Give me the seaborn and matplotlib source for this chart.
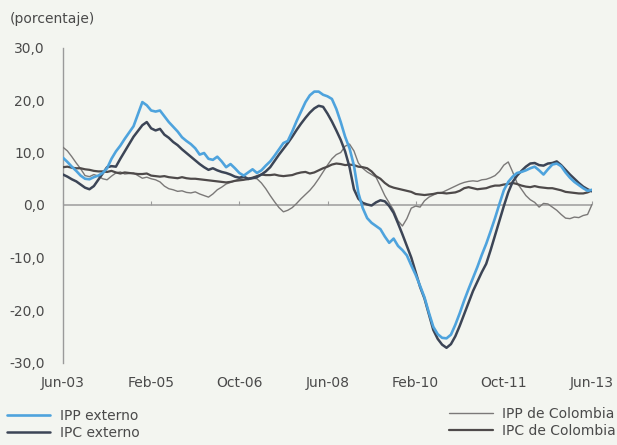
import numpy as np
import pandas as pd
import matplotlib
matplotlib.use("Agg")
import matplotlib.pyplot as plt
import seaborn as sns

# Monthly series, Jun-2003 .. Jun-2013 (annual % change)
ipp_externo = [
    9.0, 8.2, 7.3, 6.5, 5.6, 5.0, 4.9, 5.3, 5.6, 6.1, 7.0, 8.8,
    10.2, 11.3, 12.6, 13.8, 15.0, 17.3, 19.6, 19.0, 18.0, 17.8, 18.0, 16.9,
    15.8, 14.9, 14.0, 12.9, 12.2, 11.6, 10.8, 9.6, 9.9, 8.8, 8.6, 9.2,
    8.3, 7.2, 7.8, 7.0, 6.1, 5.6, 6.2, 6.8, 6.1, 6.6, 7.5, 8.3,
    9.4, 10.6, 11.8, 12.2, 14.0, 16.0, 17.8, 19.6, 20.9, 21.6, 21.6, 21.0,
    20.7, 20.2, 18.3, 15.8, 13.0, 10.8, 7.5, 2.3, -0.6, -2.5, -3.4, -4.0,
    -4.6, -6.0, -7.2, -6.4, -7.8, -8.6, -9.6, -11.5, -13.3, -15.4, -17.6, -20.5,
    -23.2, -24.6, -25.3, -25.4, -24.7, -22.8, -20.6, -18.2, -16.0, -13.9, -11.8, -9.5,
    -7.4, -5.0, -2.5, 0.2, 2.8, 4.4, 5.4, 6.1, 6.3, 6.6, 7.0, 7.3,
    6.6, 5.8, 6.8, 7.7, 7.9, 7.4, 6.2, 5.2, 4.4, 3.8, 3.2, 2.7,
    2.9,
]
ipc_externo = [
    5.8, 5.4, 4.9, 4.5, 3.9, 3.3, 3.0, 3.6, 4.8, 6.0, 7.2, 7.4,
    7.3, 8.8, 10.2, 11.6, 13.0, 14.1, 15.2, 15.8, 14.6, 14.2, 14.5, 13.4,
    12.8, 12.0, 11.4, 10.6, 9.9, 9.2, 8.5, 7.8, 7.2, 6.7, 7.0, 6.6,
    6.3, 6.1, 5.8, 5.4, 5.2, 5.4, 5.0, 5.1, 5.3, 5.8, 6.4, 7.2,
    8.4, 9.6, 10.7, 11.8, 13.0, 14.3, 15.5, 16.6, 17.6, 18.4, 18.9, 18.7,
    17.4, 15.9, 14.2, 12.4, 10.2, 7.2, 3.0, 1.2, 0.4, 0.1, -0.1, 0.5,
    0.9, 0.7, -0.2, -1.5, -3.5, -5.6, -7.8, -10.0, -12.8, -15.6, -17.8, -20.8,
    -23.8, -25.5, -26.6, -27.2, -26.5, -25.0, -23.0, -20.8, -18.6, -16.4, -14.6, -12.8,
    -11.2, -8.6, -5.8, -3.0, -0.2, 2.4, 4.4, 5.6, 6.5, 7.3, 7.9, 8.0,
    7.6, 7.5, 7.9, 8.0, 8.3, 7.6, 6.7, 5.8, 5.0, 4.2, 3.5, 3.0,
    2.6,
]
ipp_colombia = [
    11.0, 10.3, 9.2, 8.0, 6.9, 5.6, 5.4, 5.8, 5.5, 5.0, 4.8, 5.5,
    6.1, 6.3, 5.9, 6.0, 6.1, 5.6, 5.1, 5.3, 5.0, 4.8, 4.4, 3.6,
    3.1, 2.9, 2.6, 2.7, 2.4, 2.3, 2.5, 2.1, 1.8, 1.5, 2.1, 2.9,
    3.4, 4.0, 4.3, 4.6, 5.0, 4.9, 4.8, 5.1, 5.0, 4.2, 3.1, 1.8,
    0.6, -0.5, -1.3, -1.0, -0.5, 0.3, 1.2, 2.0, 2.8, 3.8, 5.0, 6.3,
    7.6, 8.8, 9.6, 10.0, 11.2, 11.6, 10.3, 8.0, 7.0, 6.3, 5.8, 5.3,
    3.6, 1.8, 0.4, -1.0, -3.0, -4.0, -2.6, -0.6, -0.2, -0.4, 0.8, 1.5,
    1.9, 2.3, 2.4, 2.8, 3.2, 3.6, 4.0, 4.3, 4.5, 4.6, 4.5, 4.8,
    4.9, 5.2, 5.6, 6.4, 7.6, 8.2, 6.3, 4.2, 3.0, 1.8, 1.0, 0.5,
    -0.4, 0.3, 0.2, -0.4, -1.0, -1.8, -2.5, -2.6, -2.3, -2.4, -2.0, -1.8,
    0.1,
]
ipc_colombia = [
    7.2, 7.3, 7.1, 7.0, 7.0, 6.8, 6.7, 6.5, 6.4, 6.4, 6.3, 6.5,
    6.2, 6.0, 6.2, 6.1, 6.0, 5.9, 5.9, 6.0, 5.6, 5.5, 5.4, 5.5,
    5.3, 5.2, 5.1, 5.3, 5.1, 5.0, 5.0, 4.9, 4.8, 4.7, 4.6, 4.5,
    4.4, 4.3, 4.4, 4.6, 4.7, 4.8, 5.0, 5.2, 5.5, 5.8, 5.7, 5.7,
    5.8, 5.6, 5.5, 5.6, 5.7, 6.0, 6.2, 6.3, 6.0, 6.2, 6.6, 7.0,
    7.3, 7.7, 7.9, 7.8, 7.6, 7.7, 7.6, 7.3, 7.2, 7.0, 6.4, 5.5,
    5.0, 4.2, 3.6, 3.3, 3.1, 2.9, 2.7, 2.5, 2.1, 2.0, 1.9, 2.0,
    2.1, 2.3, 2.3, 2.2, 2.3, 2.4, 2.7, 3.2, 3.4, 3.2, 3.0, 3.1,
    3.2, 3.5, 3.7, 3.7, 3.9, 4.0, 4.2, 4.0, 3.7, 3.5, 3.4, 3.6,
    3.4, 3.3, 3.2, 3.2, 3.0, 2.8, 2.5, 2.4, 2.3, 2.2, 2.2, 2.4,
    2.8,
]

series_names = ["IPP externo", "IPC externo", "IPP de Colombia", "IPC de Colombia"]
x_tick_labels = ["Jun-03", "Feb-05", "Oct-06", "Jun-08", "Feb-10", "Oct-11", "Jun-13"]
y_tick_values = [-30, -20, -10, 0, 10, 20, 30]

meses = pd.period_range("2003-06", "2013-06", freq="M")
idx = np.arange(len(meses))
df = pd.DataFrame({
    "mes": idx,
    "IPP externo": ipp_externo,
    "IPC externo": ipc_externo,
    "IPP de Colombia": ipp_colombia,
    "IPC de Colombia": ipc_colombia,
})

sns.set_style("white")
plt.rcParams["font.family"] = ["DejaVu Sans"]
plt.rcParams["font.size"] = 10
text_color = "#4a4a4a"
bg = "#f3f5f0"

styles = {
    "IPP de Colombia": dict(color="#7b7978", lw=1.0),
    "IPC de Colombia": dict(color="#4e4a4a", lw=1.6),
    "IPC externo": dict(color="#3c4556", lw=1.8),
    "IPP externo": dict(color="#4ea3dd", lw=1.9),
}

fig = plt.figure(figsize=(6.17, 4.45), dpi=100, facecolor=bg)
ax = fig.add_axes([63 / 617, 1 - 362.5 / 445, (592 - 63) / 617, 315 / 445])
ax.set_facecolor(bg)

ax.axhline(0, color="#9c9c9c", lw=1.1, zorder=1)

lines = {}
for name in ["IPP de Colombia", "IPC de Colombia", "IPC externo", "IPP externo"]:
    sns.lineplot(data=df, x="mes", y=name, ax=ax, color=styles[name]["color"],
                 linewidth=styles[name]["lw"], zorder=3)
    lines[name] = ax.get_lines()[-1]
if ax.get_legend() is not None:
    ax.get_legend().remove()

ax.set_xlim(idx[0], idx[-1])
ax.set_ylim(-30, 30)
ax.set_xlabel("")
ax.set_ylabel("")

# x labels at the bottom, tick marks on the zero line
tick_pos = [meses.get_loc(pd.Period(pd.to_datetime(t, format="%b-%y"), freq="M")) for t in x_tick_labels]
ax.set_xticks(tick_pos)
ax.set_xticklabels(x_tick_labels)
ax.tick_params(axis="x", length=0, pad=10, labelcolor=text_color, labelsize=10)

ax.set_yticks(y_tick_values)
ax.set_yticklabels([f"{v:.1f}".replace(".", ",") for v in y_tick_values])
ax.tick_params(axis="y", direction="in", length=3, width=0.8, color="#9c9c9c",
               pad=13, labelcolor=text_color, labelsize=10)

for s in ["top", "right", "bottom"]:
    ax.spines[s].set_visible(False)
ax.spines["left"].set_color("#9a9a9a")
ax.spines["left"].set_linewidth(1.0)

sec = ax.secondary_xaxis(0.5)
sec.set_xticks(tick_pos)
sec.tick_params(axis="x", direction="out", length=3, width=0.8, color="#9c9c9c",
                labeltop=False, labelbottom=False)
for s in sec.spines.values():
    s.set_visible(False)

fig.text(10 / 617, 1 - 19 / 445, "(porcentaje)", ha="left", va="center",
         color=text_color, fontsize=10)

leg_kw = dict(frameon=False, fontsize=10, handlelength=3.1, handletextpad=0.7,
              labelspacing=0.2, borderpad=0, borderaxespad=0, labelcolor=text_color)
leg1 = fig.legend([lines["IPP externo"], lines["IPC externo"]],
                  ["IPP externo", "IPC externo"], loc="upper left",
                  bbox_to_anchor=(7 / 617, 1 - 409 / 445), **leg_kw)
leg2 = fig.legend([lines["IPP de Colombia"], lines["IPC de Colombia"]],
                  ["IPP de Colombia", "IPC de Colombia"], loc="upper right",
                  bbox_to_anchor=(616 / 617, 1 - 407 / 445), **leg_kw)

fig.savefig("out.png", dpi=100, facecolor=bg)
